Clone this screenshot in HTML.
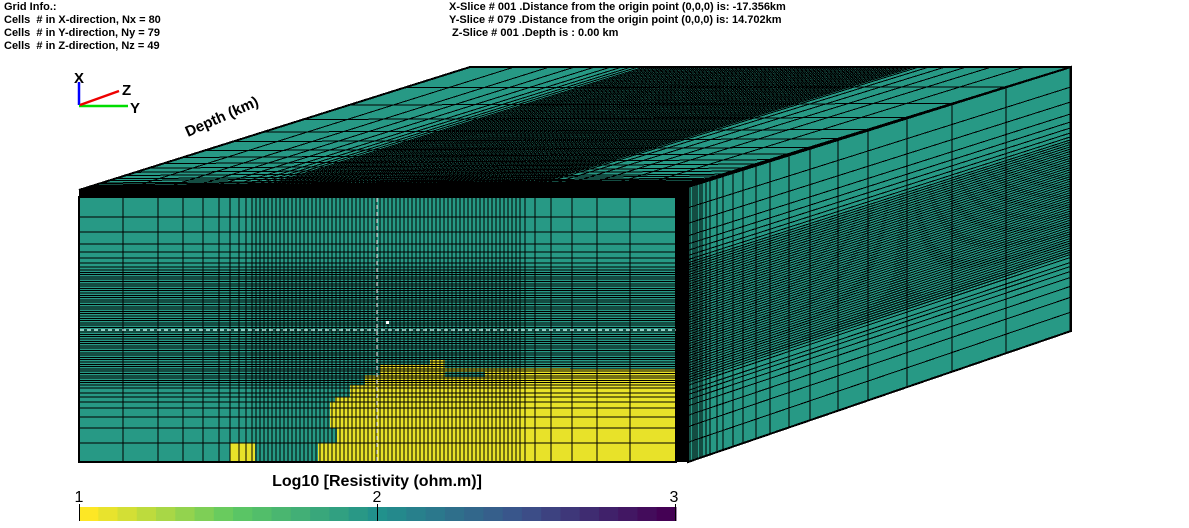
<!DOCTYPE html>
<html><head><meta charset="utf-8">
<style>
html,body{margin:0;padding:0;background:#fff;}
body{width:1189px;height:528px;overflow:hidden;position:relative;font-family:"Liberation Sans",Arial,sans-serif;}
.t{position:absolute;font-weight:bold;font-size:11px;color:#000;white-space:pre;line-height:13px;}
</style></head><body>
<div class="t" style="left:4px;top:1px">Grid Info.:
Cells  # in X-direction, Nx = 80
Cells  # in Y-direction, Ny = 79
Cells  # in Z-direction, Nz = 49</div>
<div class="t" style="left:449px;top:1px">X-Slice # 001 .Distance from the origin point (0,0,0) is: -17.356km
Y-Slice # 079 .Distance from the origin point (0,0,0) is: 14.702km
 Z-Slice # 001 .Depth is : 0.00 km</div>
<svg id="s" width="1189" height="528" style="position:absolute;left:0;top:0" xmlns="http://www.w3.org/2000/svg">
<line x1="79" y1="105" x2="79" y2="82" stroke="#0000ff" stroke-width="2.5"/>
<line x1="79" y1="106" x2="128" y2="106" stroke="#00dd00" stroke-width="2.5"/>
<line x1="80" y1="105" x2="119" y2="91" stroke="#ee0000" stroke-width="2.5"/>
<text x="74" y="83" font-size="15" font-weight="bold" font-family="Liberation Sans,Arial,sans-serif">X</text>
<text x="122" y="95" font-size="15" font-weight="bold" font-family="Liberation Sans,Arial,sans-serif">Z</text>
<text x="130" y="113" font-size="15" font-weight="bold" font-family="Liberation Sans,Arial,sans-serif">Y</text>
<text x="0" y="0" font-size="15" font-weight="bold" font-family="Liberation Sans,Arial,sans-serif" transform="translate(188,137) rotate(-24)">Depth (km)</text>
<g id="g" shape-rendering="crispEdges"></g>
<text x="377" y="486" font-size="16" font-weight="bold" text-anchor="middle" font-family="Liberation Sans,Arial,sans-serif">Log10 [Resistivity (ohm.m)]</text>
<text x="79" y="502" font-size="16" text-anchor="middle" font-family="Liberation Sans,Arial,sans-serif">1</text>
<text x="377" y="502" font-size="16" text-anchor="middle" font-family="Liberation Sans,Arial,sans-serif">2</text>
<text x="674" y="502" font-size="16" text-anchor="middle" font-family="Liberation Sans,Arial,sans-serif">3</text>
<g id="cb"></g>
</svg>
<script>
var NS="http://www.w3.org/2000/svg",g=document.getElementById("g"),cb=document.getElementById("cb");
function el(p,t,a){var e=document.createElementNS(NS,t);for(var k in a)e.setAttribute(k,a[k]);p.appendChild(e);return e;}
function ln(x1,y1,x2,y2,w,c){el(g,"line",{x1:x1,y1:y1,x2:x2,y2:y2,stroke:c||"#000","stroke-width":w||1});}
var TEAL="#279985",YEL="#e8e229";
var cols=[79,123,158,183,203,219,230,239,246,252];for(var x=256;x<521;x+=4)cols.push(x);cols=cols.concat([525,535,551,572,597,630,676]);
var rows=[197,217,232,244,252,258,263,267];for(var y=270;y<386;y+=2.3)rows.push(y);rows=rows.concat([388,393,397,402,408,417,428,443,462]);
var rcols=[688,690,693,695,697,700,702,706,710,717,723,733,743,756,770,789,810,838,868,907,952,1006,1070];
el(g,"polygon",{points:"79,190 470,67 1071,67 688,185",fill:TEAL,stroke:"#000","stroke-width":2});
function lerp(a,b,t){return a+(b-a)*t;}
var FL=[79,190],FR=[688,185],BL=[470,67],BR=[1071,67];
for(var i=0;i<cols.length;i++){var s=(cols[i]-79)/(676-79);
 ln(lerp(FL[0],FR[0],s),lerp(FL[1],FR[1],s),lerp(BL[0],BR[0],s),lerp(BL[1],BR[1],s),1);}
for(var i=0;i<rcols.length;i++){var s=(rcols[i]-688)/(1070-688);
 ln(lerp(FL[0],BL[0],s),lerp(FL[1],BL[1],s),lerp(FR[0],BR[0],s),lerp(FR[1],BR[1],s),1);}
el(g,"polygon",{points:"688,187 1071,67 1071,331 688,462",fill:TEAL,stroke:"#000","stroke-width":2});
function topY(x){return 187-(x-688)*120/383;}function botY(x){return 462-(x-688)*131/383;}
for(var i=0;i<rcols.length;i++){var x=rcols[i];ln(x,topY(x),x,botY(x),1);}
for(var i=0;i<rows.length;i++){var t=(rows[i]-197)/265;ln(688,lerp(187,462,t),1071,lerp(67,331,t),1);}
el(g,"polygon",{points:"79,190 688,185 688,462 676,462 676,197 79,197",fill:"#000"});
el(g,"rect",{x:79,y:197,width:597,height:265,fill:TEAL});
el(g,"polygon",{points:"318,462 318,443 337,443 337,428 330,428 330,402 335,402 335,397 350,397 350,385 365,385 365,375 380,375 380,364 430,364 430,360 445,360 445,368 570,368 570,369 676,369 676,462",fill:YEL});
el(g,"rect",{x:230,y:443,width:25,height:19,fill:YEL});
el(g,"rect",{x:445,y:372,width:40,height:5,fill:TEAL});
for(var i=0;i<cols.length;i++)ln(cols[i],197,cols[i],462,1);
for(var i=0;i<rows.length;i++)ln(79,rows[i],676,rows[i],1);
el(g,"rect",{x:79,y:197,width:597,height:265,fill:"none",stroke:"#000","stroke-width":2});
el(g,"line",{x1:377,y1:198,x2:377,y2:461,stroke:"#fff","stroke-width":1,"stroke-dasharray":"4,3"});
el(g,"line",{x1:80,y1:330,x2:676,y2:330,stroke:"#fff","stroke-width":1,"stroke-dasharray":"4,3"});
el(g,"rect",{x:386,y:321,width:3,height:3,fill:"#fff"});
var st=[[0,[253,231,37]],[0.25,[94,201,98]],[0.5,[33,145,140]],[0.75,[59,82,139]],[1,[68,1,84]]];
function vir(t){for(var i=0;i<4;i++){if(t<=st[i+1][0]){var u=(t-st[i][0])/(st[i+1][0]-st[i][0]);var a=st[i][1],b=st[i+1][1];return "rgb("+Math.round(lerp(a[0],b[0],u))+","+Math.round(lerp(a[1],b[1],u))+","+Math.round(lerp(a[2],b[2],u))+")";}}}
var N=31,W=(676-79)/N;
for(var i=0;i<N;i++)el(cb,"rect",{x:79+i*W,y:507,width:W+0.5,height:14,fill:vir(i/(N-1))});
el(cb,"line",{x1:79.5,y1:504,x2:79.5,y2:521,stroke:"#000"});
el(cb,"line",{x1:377.5,y1:504,x2:377.5,y2:521,stroke:"#000"});
el(cb,"line",{x1:675.5,y1:504,x2:675.5,y2:521,stroke:"#000"});
</script>
</body></html>
